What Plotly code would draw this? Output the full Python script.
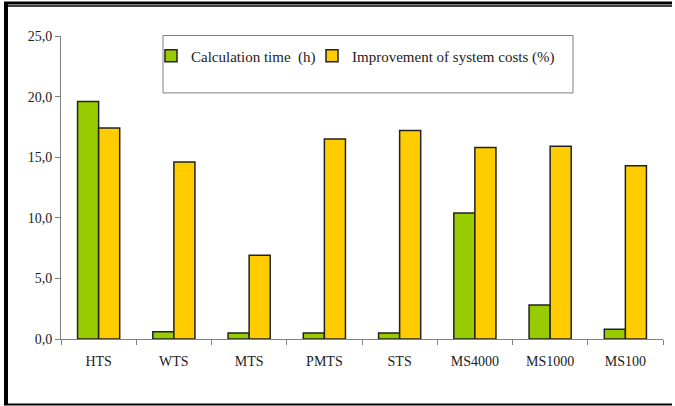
import plotly.graph_objects as go

categories = ["HTS", "WTS", "MTS", "PMTS", "STS", "MS4000", "MS1000", "MS100"]
calc_time = [19.6, 0.6, 0.5, 0.5, 0.5, 10.4, 2.8, 0.8]
improvement = [17.4, 14.6, 6.9, 16.5, 17.2, 15.8, 15.9, 14.3]
y_ticks = [0, 5, 10, 15, 20, 25]

W, H = 675, 406
L, R, T, B = 61, 12, 35.5, 67
PW = W - L - R
PH = H - T - B

def px(x):
    return (x - L) / PW

def py(y):
    return (H - B - y) / PH

fig = go.Figure()
fig.add_trace(go.Bar(name="Calculation time  (h)", x=categories, y=calc_time, legend="legend",
                     marker=dict(color="#99CC00", line=dict(color="#222222", width=1.5))))
fig.add_trace(go.Bar(name="Improvement of system costs (%)", x=categories, y=improvement, legend="legend2",
                     marker=dict(color="#FFCC00", line=dict(color="#222222", width=1.5))))

shapes = [
    # legend box
    dict(type="rect", xref="paper", yref="paper", x0=px(163), x1=px(573), y0=py(92.5), y1=py(35),
         line=dict(color="#808080", width=1), fillcolor="rgba(0,0,0,0)", layer="above"),
    # frame: left thick line
    dict(type="line", xref="paper", yref="paper", x0=px(6), x1=px(6), y0=py(3), y1=py(405),
         line=dict(color="black", width=4)),
    # top thick line
    dict(type="line", xref="paper", yref="paper", x0=px(4), x1=px(672), y0=py(2.5), y1=py(2.5),
         line=dict(color="black", width=3)),
    # top thin line
    dict(type="line", xref="paper", yref="paper", x0=px(6), x1=px(672), y0=py(5.5), y1=py(5.5),
         line=dict(color="black", width=1.5)),
    # bottom line
    dict(type="line", xref="paper", yref="paper", x0=px(4), x1=px(672), y0=py(404.5), y1=py(404.5),
         line=dict(color="black", width=2)),
]

legend_common = dict(orientation="h", xanchor="left", yanchor="top",
                     bgcolor="rgba(0,0,0,0)", borderwidth=0, itemwidth=30,
                     font=dict(size=15))

fig.update_layout(
    width=W, height=H,
    margin=dict(l=L, r=R, t=T, b=B, pad=0),
    paper_bgcolor="white", plot_bgcolor="white",
    barmode="group", bargap=0.44, bargroupgap=0,
    separators=",.",
    font=dict(family="Liberation Serif, Times New Roman, serif", size=14, color="#222222"),
    showlegend=True,
    legend=dict(x=px(151), y=py(39), **legend_common),
    legend2=dict(x=px(312), y=py(39), **legend_common),
    shapes=shapes,
    xaxis=dict(type="category", showline=True, linecolor="#808080", linewidth=1,
               ticks="outside", ticklen=5, tickcolor="#808080", tickson="boundaries",
               showgrid=False, ticklabelstandoff=9, fixedrange=True),
    yaxis=dict(range=[0, 25], tickvals=y_ticks, tickformat=".1f", showline=True,
               linecolor="#808080", linewidth=1, ticks="outside", ticklen=5,
               tickcolor="#808080", showgrid=False, zeroline=False, fixedrange=True),
)

fig.write_html(
    "out.html",
    config={"displayModeBar": False, "staticPlot": True},
    post_script=("document.body.style.margin='0';document.body.style.padding='0';"
                 "document.documentElement.style.overflow='hidden';"),
)
